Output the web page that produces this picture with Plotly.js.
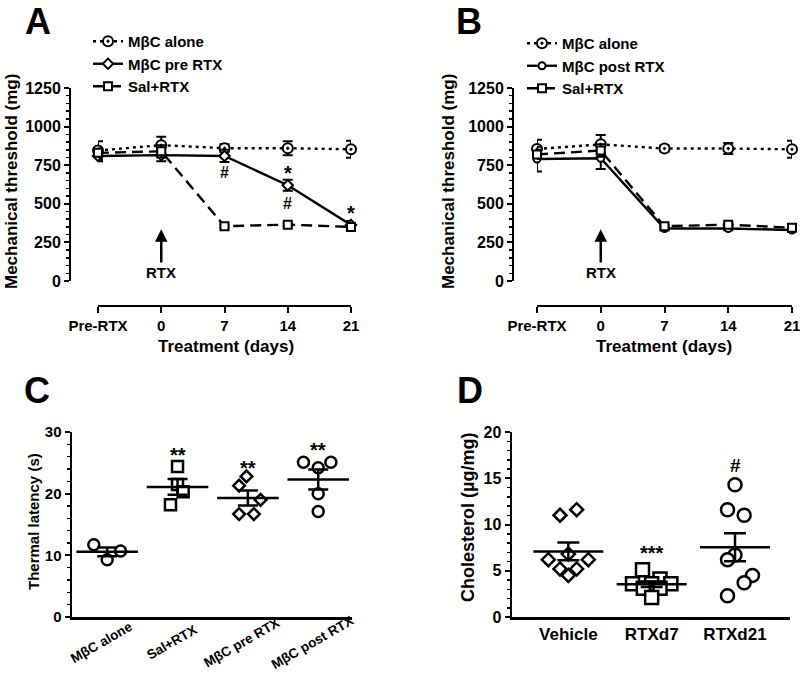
<!DOCTYPE html>
<html><head><meta charset="utf-8">
<script src="https://cdn.plot.ly/plotly-3.0.1.min.js"></script>
<style>html,body{margin:0;padding:0;background:#fff}</style>
</head><body><div id="chart" style="width:800px;height:674px"></div>
<script>
// ---------- DATA ----------
const timeLabels = ['Pre-RTX', '0', '7', '14', '21'];
// Panel A
const aAloneMean = [845, 880, 860, 860, 853];
const aAloneSem  = [60, 55, 25, 45, 55];
const aPreMean   = [810, 815, 810, 620, 363];
const aPreSem    = [35, 40, 40, 35, 25];
const aSalMean   = [830, 840, 355, 365, 350];
const aSalSem    = [30, 40, 10, 10, 15];
// Panel B
const bAloneMean = [855, 885, 858, 858, 853];
const bAloneSem  = [60, 60, 20, 35, 55];
const bPostMean  = [790, 795, 340, 340, 330];
const bPostSem   = [80, 70, 12, 12, 12];
const bSalMean   = [820, 845, 355, 365, 345];
const bSalSem    = [30, 40, 10, 10, 10];
// Panel C (thermal latency, s)
const thermalGroups = ['MβC alone', 'Sal+RTX', 'MβC pre RTX', 'MβC post RTX'];
const thermalAlone = [11.7, 9.3, 10.7];
const thermalSal   = [24.4, 21.5, 20.3, 18.2];
const thermalPre   = [22.8, 21.3, 19.0, 16.7, 16.7];
const thermalPost  = [25.1, 25.1, 24.2, 20.0, 17.1];
// Panel D (cholesterol, µg/mg)
const cholGroups  = ['Vehicle', 'RTXd7', 'RTXd21'];
const cholVehicle = [11.0, 11.6, 6.2, 6.2, 6.8, 5.2, 5.2, 4.5];
const cholD7      = [5.1, 4.1, 3.6, 3.6, 3.6, 3.1, 3.1, 2.1];
const cholD21     = [14.3, 11.6, 11.0, 6.7, 6.2, 4.5, 3.7, 2.3];

// ---------- LAYOUT HELPERS (positions / styles) ----------
const W = 800, H = 674;
const px = x => x / W;
const py = y => 1 - y / H;
const FONT = 'Liberation Sans, Arial, sans-serif';
const f = (size) => ({family: FONT, size: size, color: '#000', weight: 'bold'});

// horizontal scatter offsets (category units), layout only
const spreadC = [
  [-0.19, 0, 0.19],
  [0, 0.0, 0.08, -0.1],
  [-0.02, -0.125, 0.18, -0.125, 0.085],
  [-0.21, 0.18, 0, 0, 0]
];
const spreadD = [
  [-0.1, 0.1, -0.24, 0.24, 0, -0.1, 0.1, 0],
  [-0.11, 0.1, -0.23, 0.23, 0, -0.1, 0.1, 0],
  [0, -0.09, 0.11, 0, -0.09, 0.21, 0.11, -0.09]
];

const mean = a => a.reduce((s, v) => s + v, 0) / a.length;
const sem = a => { const m = mean(a); const v = a.reduce((s, x) => s + (x - m) * (x - m), 0) / (a.length - 1); return Math.sqrt(v / a.length); };

const WHITE = '#fff', BLACK = '#000';

function lineTrace(xa, ya, leg, name, y, err, dash, symbol, size) {
  return {
    type: 'scatter', mode: 'lines+markers', name: name, x: timeLabels, y: y,
    xaxis: xa, yaxis: ya, legend: leg, cliponaxis: false,
    line: {color: BLACK, width: 2.4, dash: dash},
    marker: {symbol: symbol, size: size, color: WHITE, line: {color: BLACK, width: 2}},
    error_y: {type: 'data', array: err, visible: true, color: BLACK, thickness: 2, width: 5}
  };
}

const DOT = '3px,4px', DASH = '11px,6px';

const traces = [
  lineTrace('x', 'y', 'legend', 'MβC alone', aAloneMean, aAloneSem, DOT, 'circle-dot', 10),
  lineTrace('x', 'y', 'legend', 'MβC pre RTX', aPreMean, aPreSem, 'solid', 'diamond', 8),
  lineTrace('x', 'y', 'legend', 'Sal+RTX', aSalMean, aSalSem, DASH, 'square', 8),
  lineTrace('x2', 'y2', 'legend2', 'MβC alone', bAloneMean, bAloneSem, DOT, 'circle-dot', 10),
  lineTrace('x2', 'y2', 'legend2', 'MβC post RTX', bPostMean, bPostSem, 'solid', 'circle', 7),
  lineTrace('x2', 'y2', 'legend2', 'Sal+RTX', bSalMean, bSalSem, DASH, 'square', 8)
];

// Panel C scatter
const cSets = [thermalAlone, thermalSal, thermalPre, thermalPost];
const cSym = ['circle', 'square', 'diamond', 'circle'];
const cSize = [11, 11, 9, 11];
cSets.forEach((vals, gi) => {
  traces.push({
    type: 'scatter', mode: 'markers', showlegend: false, xaxis: 'x3', yaxis: 'y3', cliponaxis: false,
    x: vals.map((v, i) => gi + spreadC[gi][i]), y: vals,
    marker: {symbol: cSym[gi], size: cSize[gi], color: WHITE, line: {color: BLACK, width: 2.5}}
  });
});
traces.push({
  type: 'scatter', mode: 'markers', showlegend: false, xaxis: 'x3', yaxis: 'y3', cliponaxis: false,
  x: cSets.map((v, i) => i), y: cSets.map(mean),
  marker: {symbol: 'line-ew', size: 44, color: BLACK, line: {color: BLACK, width: 2.5}},
  error_y: {type: 'data', array: cSets.map(sem), visible: true, color: BLACK, thickness: 2.5, width: 10}
});

// Panel D scatter
const dSets = [cholVehicle, cholD7, cholD21];
const dSym = ['diamond', 'square', 'circle'];
const dSize = [10, 13, 13];
dSets.forEach((vals, gi) => {
  traces.push({
    type: 'scatter', mode: 'markers', showlegend: false, xaxis: 'x4', yaxis: 'y4', cliponaxis: false,
    x: vals.map((v, i) => gi + spreadD[gi][i]), y: vals,
    marker: {symbol: dSym[gi], size: dSize[gi], color: WHITE, line: {color: BLACK, width: 2.5}}
  });
});
traces.push({
  type: 'scatter', mode: 'markers', showlegend: false, xaxis: 'x4', yaxis: 'y4', cliponaxis: false,
  x: dSets.map((v, i) => i), y: dSets.map(mean),
  marker: {symbol: 'line-ew', size: 50, color: BLACK, line: {color: BLACK, width: 2.5}},
  error_y: {type: 'data', array: dSets.map(sem), visible: true, color: BLACK, thickness: 2.5, width: 11}
});

// ---------- AXES ----------
const lineAxis = {showline: true, linecolor: BLACK, showgrid: false, zeroline: false, fixedrange: true};
function timeX(d0, d1) {
  return Object.assign({}, lineAxis, {
    domain: [px(d0), px(d1)], anchor: 'free', position: py(306), type: 'category', range: [0, 4],
    linewidth: 2, ticks: 'outside', ticklen: 6, tickwidth: 2, tickcolor: BLACK, tickfont: f(15)
  });
}
function threshY(pos) {
  return Object.assign({}, lineAxis, {
    domain: [py(281), py(88)], anchor: 'free', position: px(pos), range: [0, 1250],
    tickmode: 'linear', tick0: 0, dtick: 250, linewidth: 2, ticks: 'outside', ticklen: 5, tickwidth: 2, tickcolor: BLACK,
    tickfont: f(16), minor: {ticks: 'outside', dtick: 50, ticklen: 3, tickwidth: 1.5, tickcolor: BLACK}
  });
}

const annotations = [];
function ann(o) { annotations.push(Object.assign({showarrow: false}, o)); }
// Panel letters
[['A', 38, 21], ['B', 469, 21], ['C', 37, 390], ['D', 470, 390]].forEach(([t, x, y]) =>
  ann({text: t, xref: 'paper', yref: 'paper', x: px(x), y: py(y), xanchor: 'center', yanchor: 'middle', font: f(36)}));
// Axis titles
ann({text: 'Mechanical threshold (mg)', xref: 'paper', yref: 'paper', x: px(11), y: py(182), textangle: -90, font: f(17), xanchor: 'center', yanchor: 'middle'});
ann({text: 'Mechanical threshold (mg)', xref: 'paper', yref: 'paper', x: px(448), y: py(182), textangle: -90, font: f(17), xanchor: 'center', yanchor: 'middle'});
ann({text: 'Treatment (days)', xref: 'paper', yref: 'paper', x: px(226), y: py(346), font: f(17), xanchor: 'center', yanchor: 'middle'});
ann({text: 'Treatment (days)', xref: 'paper', yref: 'paper', x: px(664), y: py(346), font: f(17), xanchor: 'center', yanchor: 'middle'});
ann({text: 'Thermal latency (s)', xref: 'paper', yref: 'paper', x: px(33), y: py(522), textangle: -90, font: f(15), xanchor: 'center', yanchor: 'middle'});
ann({text: 'Cholesterol (µg/mg)', xref: 'paper', yref: 'paper', x: px(468), y: py(518), textangle: -90, font: f(18), xanchor: 'center', yanchor: 'middle'});
// Panel C rotated category labels
thermalGroups.forEach((t, i) => ann({text: t, xref: 'x3', yref: 'paper', x: i, xshift: -6, y: py(642), textangle: -30, font: f(13.5), xanchor: 'center', yanchor: 'middle'}));
// RTX arrows
[['x', 'y'], ['x2', 'y2']].forEach(([xa, ya]) => ann({
  text: 'RTX', xref: xa, yref: ya, x: 1, y: 335, axref: xa, ayref: ya, ax: 1, ay: 55,
  showarrow: true, arrowhead: 2, arrowsize: 1, arrowwidth: 2.5, arrowcolor: BLACK, font: f(15)
}));
// Significance marks
ann({text: '#', xref: 'x', yref: 'y', x: 2, y: 700, font: f(16)});
ann({text: '*', xref: 'x', yref: 'y', x: 3, y: 700, font: f(20)});
ann({text: '#', xref: 'x', yref: 'y', x: 3, y: 505, font: f(16)});
ann({text: '*', xref: 'x', yref: 'y', x: 4, y: 440, font: f(20)});
ann({text: '**', xref: 'x3', yref: 'y3', x: 1, y: 26.3, font: f(20)});
ann({text: '**', xref: 'x3', yref: 'y3', x: 2, y: 24.1, font: f(20)});
ann({text: '**', xref: 'x3', yref: 'y3', x: 3, y: 27.1, font: f(20)});
ann({text: '***', xref: 'x4', yref: 'y4', x: 1, y: 6.9, font: f(20)});
ann({text: '#', xref: 'x4', yref: 'y4', x: 2, y: 16.4, font: f(19)});

const legendBase = {bgcolor: 'rgba(0,0,0,0)', borderwidth: 0, font: f(15), xanchor: 'left', yanchor: 'top', itemwidth: 30, tracegroupgap: 0};

const layout = {
  width: W, height: H, margin: {l: 0, r: 0, t: 0, b: 0},
  paper_bgcolor: WHITE, plot_bgcolor: 'rgba(0,0,0,0)',
  font: {family: FONT, color: BLACK},
  showlegend: true,
  legend: Object.assign({}, legendBase, {x: px(88), y: py(25)}),
  legend2: Object.assign({}, legendBase, {x: px(522), y: py(27)}),
  xaxis: timeX(98, 351),
  yaxis: threshY(70),
  xaxis2: timeX(537, 792),
  yaxis2: threshY(513),
  xaxis3: Object.assign({}, lineAxis, {domain: [px(72), px(352)], anchor: 'y3', range: [-0.5, 3.48], linewidth: 2.5, ticks: '', showticklabels: false}),
  yaxis3: Object.assign({}, lineAxis, {domain: [py(617), py(432)], anchor: 'x3', range: [0, 30], tickmode: 'linear', tick0: 0, dtick: 10,
    linewidth: 2.5, ticks: 'outside', ticklen: 5, tickwidth: 2, tickcolor: BLACK, tickfont: f(15),
    minor: {ticks: 'outside', dtick: 2, ticklen: 3, tickwidth: 1.5, tickcolor: BLACK}}),
  xaxis4: Object.assign({}, lineAxis, {domain: [px(512), px(790)], anchor: 'y4', range: [-0.676, 2.66], linewidth: 2.5, ticks: '',
    tickmode: 'array', tickvals: [0, 1, 2], ticktext: cholGroups, tickfont: f(17)}),
  yaxis4: Object.assign({}, lineAxis, {domain: [py(617), py(432)], anchor: 'x4', range: [0, 20], tickmode: 'linear', tick0: 0, dtick: 5,
    linewidth: 2.5, ticks: 'outside', ticklen: 5, tickwidth: 2, tickcolor: BLACK, tickfont: f(16),
    minor: {ticks: 'outside', dtick: 1, ticklen: 3, tickwidth: 1.5, tickcolor: BLACK}}),
  annotations: annotations
};

Plotly.newPlot('chart', traces, layout, {displayModeBar: false, staticPlot: true});
</script>
</body></html>
